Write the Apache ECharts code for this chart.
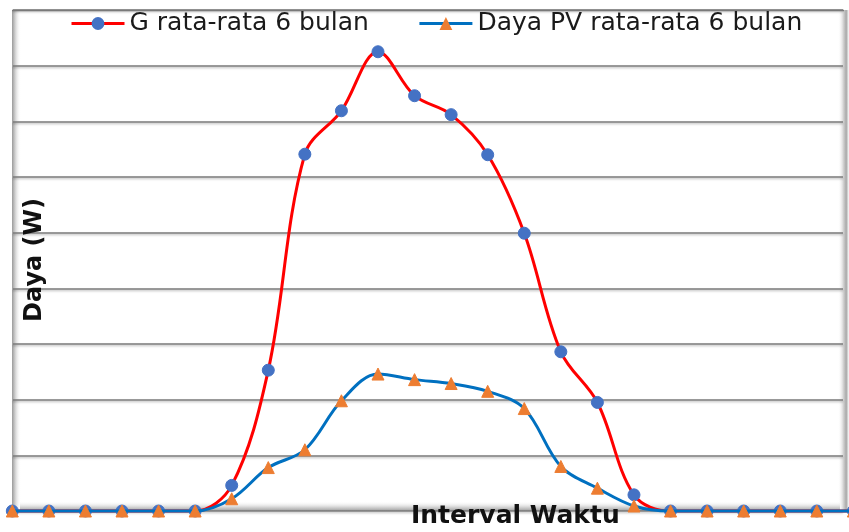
<!DOCTYPE html>
<html>
<head>
<meta charset="utf-8">
<script src="https://cdn.jsdelivr.net/npm/echarts@6/dist/echarts.min.js"></script>
<style>
  html, body { margin: 0; padding: 0; background: #ffffff; }
  #chart { width: 849px; height: 532px; }
</style>
</head>
<body>
<div id="chart"></div>
<script>
// Hourly intervals over a day
const hours = ['0','1','2','3','4','5','6','7','8','9','10','11','12','13','14','15','16','17','18','19','20','21','22','23'];

// Average irradiance-based power over six months (W)
const gAvg = [0, 0, 0, 0, 0, 0, 46, 253, 641, 719, 825, 746, 712, 640, 499, 286, 195, 29, 0, 0, 0, 0, 0, 0];

// Average PV output power over six months (W)
const pvAvg = [0, 0, 0, 0, 0, 0, 22, 78, 110, 198, 246, 236, 229, 215, 184, 80, 41, 9, 0, 0, 0, 0, 0, 0];

const yMin = 0, yMax = 900, yStep = 100;

// the hour axis runs past the right edge of the canvas: only part of the last interval is shown
const xVisibleMax = 22.88;

const FONT = '"DejaVu Sans", sans-serif';

const toPoints = (vals) => vals.map((v, i) => [i, v]);

const chart = echarts.init(document.getElementById('chart'), null, { renderer: 'canvas' });

chart.setOption({
  animation: false,
  backgroundColor: '#ffffff',
  legend: {
    left: 70,
    top: 11,
    padding: 0,
    itemWidth: 53,
    itemHeight: 16,
    itemGap: 49,
    lineStyle: { width: 3 },
    textStyle: { fontFamily: FONT, fontSize: 25, color: '#1a1a1a' },
    data: ['G rata-rata 6 bulan', 'Daya PV rata-rata 6 bulan']
  },
  grid: [
    // frame with horizontal gridlines
    { left: 13, right: 6, top: 10, bottom: 21 },
    // data area
    { left: 12.3, right: 0, top: 10, bottom: 21 }
  ],
  xAxis: [
    { gridIndex: 0, type: 'value', min: 0, max: 1, show: false },
    { gridIndex: 1, type: 'value', min: 0, max: xVisibleMax, show: false }
  ],
  yAxis: [
    {
      gridIndex: 0, type: 'value', min: yMin, max: yMax, interval: yStep,
      axisLine: { show: false }, axisTick: { show: false }, axisLabel: { show: false },
      splitLine: {
        show: true,
        lineStyle: { color: '#7a7a7a', width: 1.5, shadowColor: 'rgba(0,0,0,0.25)', shadowBlur: 2, shadowOffsetY: 1.5 }
      }
    },
    { gridIndex: 1, type: 'value', min: yMin, max: yMax, interval: yStep, show: false }
  ],
  graphic: [
    // left wall edge
    { type: 'rect', shape: { x: 12, y: 10, width: 9, height: 501 }, z: 0,
      style: { fill: new echarts.graphic.LinearGradient(0, 0, 1, 0, [
        { offset: 0, color: '#9a9a9a' }, { offset: 0.3, color: '#c8c8c8' }, { offset: 1, color: 'rgba(255,255,255,0)' }]) } },
    // right wall edge
    { type: 'rect', shape: { x: 838, y: 10, width: 11, height: 501 }, z: 0,
      style: { fill: new echarts.graphic.LinearGradient(0, 0, 1, 0, [
        { offset: 0, color: 'rgba(255,255,255,0)' }, { offset: 0.5, color: '#d0d0d0' }, { offset: 0.75, color: '#a8a8a8' }, { offset: 1, color: '#ffffff' }]) } },
    // floor edge
    { type: 'rect', shape: { x: 20, y: 501, width: 820, height: 10 }, z: 0,
      style: { fill: new echarts.graphic.LinearGradient(0, 0, 0, 1, [
        { offset: 0, color: 'rgba(255,255,255,0)' }, { offset: 0.6, color: '#d6d6d6' }, { offset: 1, color: '#a0a0a0' }]) } },
    // top edge of frame
    { type: 'line', shape: { x1: 12, y1: 10.5, x2: 844, y2: 10.5 }, z: 1,
      style: { stroke: '#7a7a7a', lineWidth: 1.5 } },
    // axis titles
    { type: 'text', x: 411, y: 504, z: 10,
      style: { text: 'Interval Waktu', fontFamily: FONT, fontSize: 25, fontWeight: 'bold', fill: '#111' } },
    { type: 'text', x: 23, y: 322, rotation: Math.PI / 2, z: 10,
      style: { text: 'Daya (W)', fontFamily: FONT, fontSize: 24, fontWeight: 'bold', fill: '#111' } }
  ],
  series: [
    {
      name: 'G rata-rata 6 bulan',
      type: 'line',
      xAxisIndex: 1, yAxisIndex: 1,
      data: toPoints(gAvg),
      smooth: 0.35,
      clip: false,
      symbol: 'circle',
      symbolSize: 12,
      lineStyle: { color: '#ff0000', width: 3 },
      itemStyle: { color: '#4472c4', borderColor: '#4472c4' },
      z: 3
    },
    {
      name: 'Daya PV rata-rata 6 bulan',
      type: 'line',
      xAxisIndex: 1, yAxisIndex: 1,
      data: toPoints(pvAvg),
      smooth: 0.35,
      clip: false,
      symbol: 'triangle',
      symbolSize: 12,
      lineStyle: { color: '#0070c0', width: 3 },
      itemStyle: { color: '#ed7d31', borderColor: '#ed7d31' },
      z: 4
    }
  ]
});
</script>
</body>
</html>
